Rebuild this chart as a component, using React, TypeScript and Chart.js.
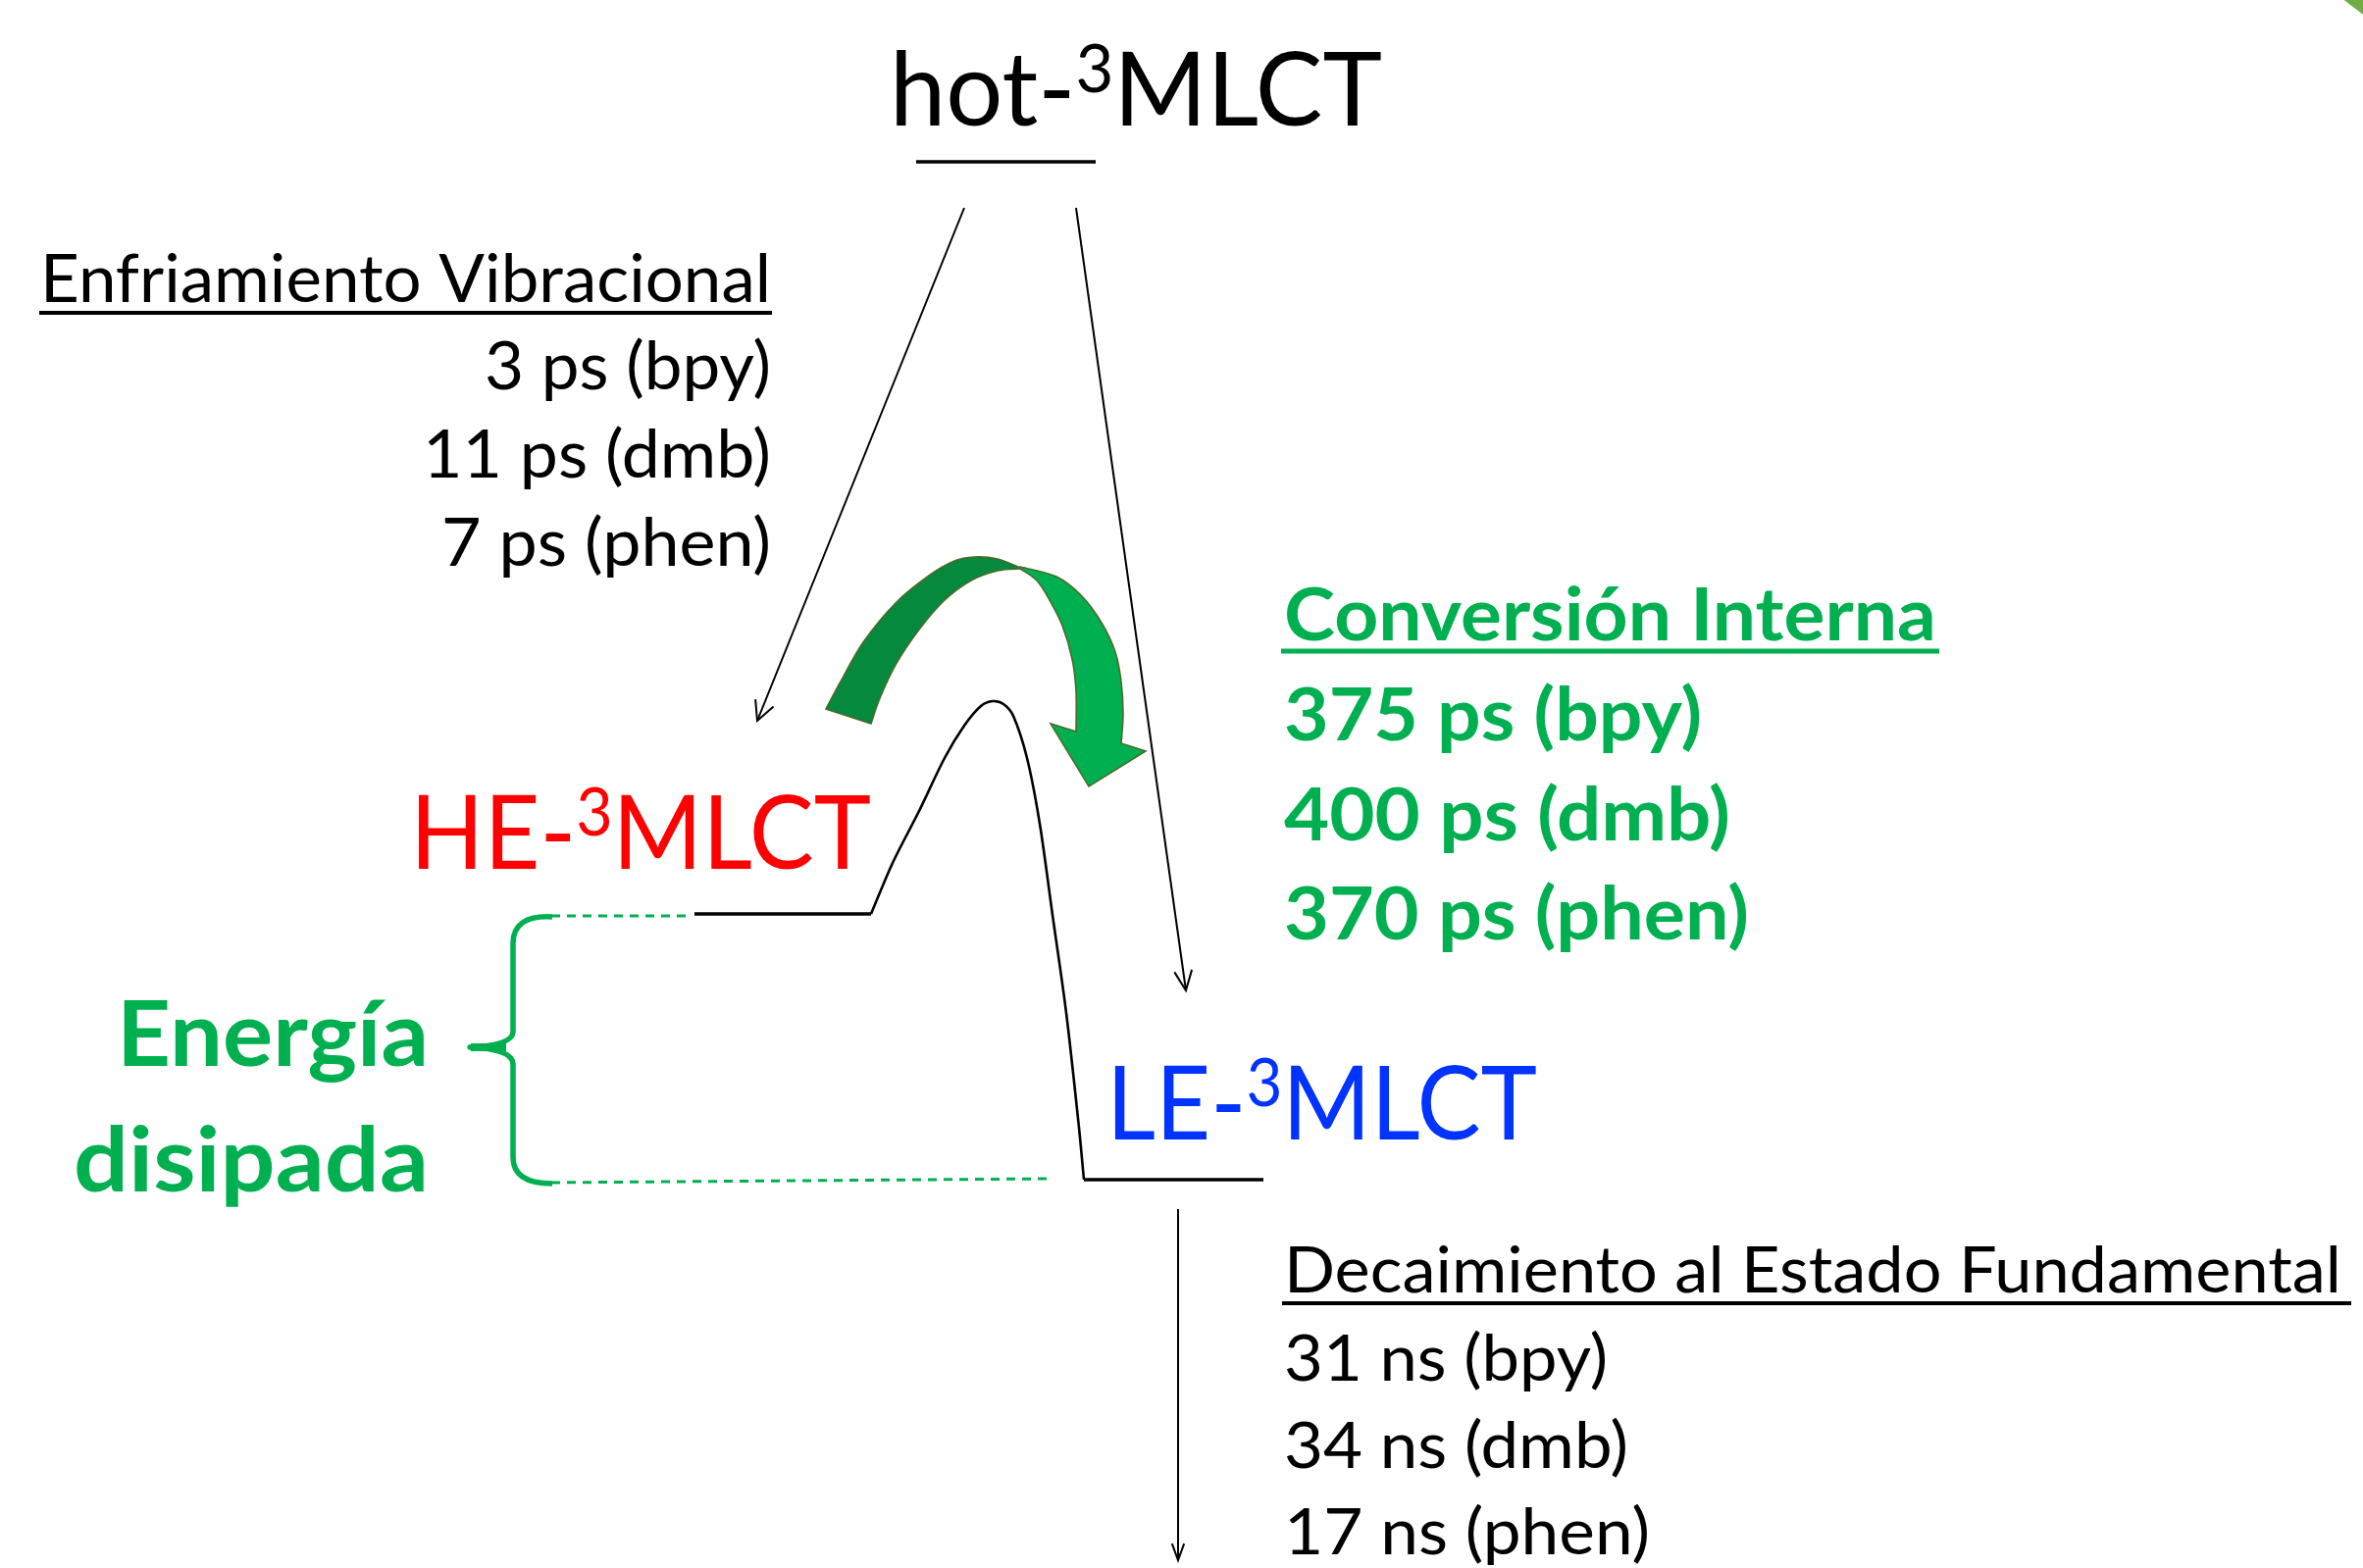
import React, { useEffect, useRef } from 'react';
import { Chart, registerables } from 'chart.js';

Chart.register(...registerables);

const W = 2409;
const H = 1599;

// ---- diagram data (x in diagram units, y = energy axis, drawn top-down) ----
const levelNames = ['hot-3MLCT', 'HE-3MLCT', 'LE-3MLCT'];
const levelX0 = [934, 708, 1105];
const levelX1 = [1117, 888, 1288];
const levelY = [165, 932, 1203];

const vibArrowX = [983, 772];
const vibArrowY = [212, 735];
const icArrowX = [1097, 1209];
const icArrowY = [212, 1010];
const decayArrowX = [1201, 1201];
const decayArrowY = [1233, 1591];

const barrierX = [888, 910, 937, 963, 983, 1000, 1012, 1023, 1033, 1047, 1060, 1073, 1087, 1100, 1105];
const barrierY = [932, 880, 827, 773, 740, 720, 715, 718, 730, 773, 840, 933, 1033, 1150, 1203];

const dashUpperX = [562, 706];
const dashUpperY = [934, 934];
const dashLowerX = [562, 1068];
const dashLowerY = [1206, 1202];

// curved green arrow (internal conversion), two ribbon halves
const darkOuterX = [842, 857, 880, 913, 947, 973, 993, 1017, 1040];
const darkOuterY = [723, 695, 655, 615, 587, 572, 568, 570, 579];
const darkInnerX = [1040, 1017, 990, 963, 937, 913, 897, 888];
const darkInnerY = [580, 582, 592, 612, 642, 678, 712, 738];
const lightOuterX = [1040, 1077, 1103, 1123, 1137, 1143, 1145, 1143];
const lightOuterY = [578, 588, 608, 635, 665, 695, 728, 758];
const lightHeadX = [1168, 1110, 1071, 1097];
const lightHeadY = [766, 802, 738, 746];
const lightInnerX = [1097, 1097, 1093, 1083, 1070, 1057, 1040];
const lightInnerY = [746, 705, 672, 638, 612, 592, 580];

// texts
const vibTitle = 'Enfriamiento Vibracional';
const vibLabels = ['3 ps (bpy)', '11 ps (dmb)', '7 ps (phen)'];
const icTitle = 'Conversión Interna';
const icLabels = ['375 ps (bpy)', '400 ps (dmb)', '370 ps (phen)'];
const decayTitle = 'Decaimiento al Estado Fundamental';
const decayLabels = ['31 ns (bpy)', '34 ns (dmb)', '17 ns (phen)'];
const energyLabels = ['Energía', 'disipada'];

const BLACK = '#000000';
const GREEN = '#00B050';
const DARK_GREEN = '#058A3D';
const OUTLINE = '#4A6A2A';
const RED = '#FF0000';
const BLUE = '#0033FF';
const FONT = 'Lato, "Open Sans", sans-serif';

const pts = (xs: number[], ys: number[]) => xs.map((x, i) => ({ x, y: ys[i] }));

type Run = { t: string; size: number; dy?: number; bold?: boolean; color?: string };

export default function App() {
  const ref = useRef<HTMLCanvasElement | null>(null);

  useEffect(() => {
    const canvas = ref.current;
    if (!canvas) return;

    const diagramPlugin = {
      id: 'diagram',
      afterDatasetsDraw(chart: any) {
        const ctx: CanvasRenderingContext2D = chart.ctx;
        const xs = chart.scales.x;
        const ys = chart.scales.y;
        const px = (v: number) => xs.getPixelForValue(v);
        const py = (v: number) => ys.getPixelForValue(v);

        // smooth curve through points (Catmull-Rom), assumes current point is at first point
        const smoothTo = (X: number[], Y: number[]) => {
          const P = X.map((x, i) => [px(x), py(Y[i])]);
          for (let i = 0; i < P.length - 1; i++) {
            const p0 = P[Math.max(0, i - 1)], p1 = P[i], p2 = P[i + 1], p3 = P[Math.min(P.length - 1, i + 2)];
            ctx.bezierCurveTo(
              p1[0] + (p2[0] - p0[0]) / 6, p1[1] + (p2[1] - p0[1]) / 6,
              p2[0] - (p3[0] - p1[0]) / 6, p2[1] - (p3[1] - p1[1]) / 6,
              p2[0], p2[1]
            );
          }
        };
        const linesTo = (X: number[], Y: number[]) => X.forEach((x, i) => ctx.lineTo(px(x), py(Y[i])));

        const arrowHead = (X: number[], Y: number[], len: number, ang: number, lw: number) => {
          const n = X.length;
          const x1 = px(X[n - 1]), y1 = py(Y[n - 1]);
          const x0 = px(X[n - 2]), y0 = py(Y[n - 2]);
          const a = Math.atan2(y1 - y0, x1 - x0);
          ctx.beginPath();
          ctx.moveTo(x1 - len * Math.cos(a - ang), y1 - len * Math.sin(a - ang));
          ctx.lineTo(x1, y1);
          ctx.lineTo(x1 - len * Math.cos(a + ang), y1 - len * Math.sin(a + ang));
          ctx.strokeStyle = BLACK;
          ctx.lineWidth = lw;
          ctx.lineJoin = 'miter';
          ctx.stroke();
        };

        const fontOf = (r: Run) => `${r.bold ? 'bold ' : ''}${r.size}px ${FONT}`;
        const drawRuns = (runs: Run[], x0: number, x1: number, base: number, color: string) => {
          let natural = 0;
          const widths: number[] = [];
          runs.forEach((r) => {
            ctx.font = fontOf(r);
            const w = ctx.measureText(r.t).width;
            widths.push(w);
            natural += w;
          });
          const s = (px(x1) - px(x0)) / natural;
          ctx.save();
          ctx.translate(px(x0), py(base));
          ctx.scale(s, 1);
          ctx.textBaseline = 'alphabetic';
          ctx.textAlign = 'left';
          let cx = 0;
          runs.forEach((r, i) => {
            ctx.font = fontOf(r);
            ctx.fillStyle = r.color || color;
            ctx.fillText(r.t, cx, -(r.dy || 0));
            cx += widths[i];
          });
          ctx.restore();
        };
        const underline = (x0: number, x1: number, y: number, th: number, color: string) => {
          ctx.fillStyle = color;
          ctx.fillRect(px(x0), py(y) - th / 2, px(x1) - px(x0), th);
        };

        ctx.save();

        // green curved arrow: dark left half
        ctx.beginPath();
        ctx.moveTo(px(darkOuterX[0]), py(darkOuterY[0]));
        smoothTo(darkOuterX, darkOuterY);
        ctx.lineTo(px(darkInnerX[0]), py(darkInnerY[0]));
        smoothTo(darkInnerX, darkInnerY);
        ctx.closePath();
        ctx.fillStyle = DARK_GREEN;
        ctx.fill();
        ctx.strokeStyle = OUTLINE;
        ctx.lineWidth = 1.6;
        ctx.lineJoin = 'miter';
        ctx.stroke();

        // light right half with head
        ctx.beginPath();
        ctx.moveTo(px(lightOuterX[0]), py(lightOuterY[0]));
        smoothTo(lightOuterX, lightOuterY);
        linesTo(lightHeadX, lightHeadY);
        smoothTo(lightInnerX, lightInnerY);
        ctx.closePath();
        ctx.fillStyle = GREEN;
        ctx.fill();
        ctx.strokeStyle = OUTLINE;
        ctx.lineWidth = 1.6;
        ctx.stroke();

        // arrow heads
        arrowHead(vibArrowX, vibArrowY, 22, 0.47, 2);
        arrowHead(icArrowX, icArrowY, 22, 0.42, 2);
        arrowHead(decayArrowX, decayArrowY, 18, 0.35, 2);

        // bracket
        ctx.beginPath();
        ctx.moveTo(px(563), py(935));
        ctx.quadraticCurveTo(px(523), py(933), px(523), py(962));
        ctx.lineTo(px(523), py(1052));
        ctx.quadraticCurveTo(px(523), py(1066), px(479), py(1068));
        ctx.quadraticCurveTo(px(523), py(1070), px(523), py(1085));
        ctx.lineTo(px(523), py(1180));
        ctx.quadraticCurveTo(px(523), py(1207), px(563), py(1207));
        ctx.strokeStyle = GREEN;
        ctx.lineWidth = 5.5;
        ctx.lineJoin = 'round';
        ctx.stroke();
        ctx.beginPath();
        ctx.moveTo(px(480), py(1068));
        ctx.lineTo(px(516), py(1068));
        ctx.lineWidth = 8;
        ctx.stroke();

        // corner decoration
        ctx.beginPath();
        ctx.moveTo(px(2387), py(-2));
        ctx.lineTo(px(2412), py(-2));
        ctx.lineTo(px(2412), py(17));
        ctx.closePath();
        ctx.fillStyle = '#70AD47';
        ctx.fill();

        // state labels
        const big = 104, sup = 68, raise = 34;
        drawRuns([{ t: 'hot-', size: big }, { t: '3', size: sup, dy: raise }, { t: 'MLCT', size: big }], 907, 1409, 128, BLACK);
        drawRuns([{ t: 'HE-', size: big }, { t: '3', size: sup, dy: raise }, { t: 'MLCT', size: big }], 418, 888, 886, RED);
        drawRuns([{ t: 'LE-', size: big }, { t: '3', size: sup, dy: raise }, { t: 'MLCT', size: big }], 1128, 1567, 1162, BLUE);

        // vibrational cooling
        drawRuns([{ t: vibTitle, size: 67 }], 41, 786, 308, BLACK);
        underline(40, 787, 319, 4, BLACK);
        const vibLeft = [494, 431, 450];
        const vibBase = [397, 487, 577];
        vibLabels.forEach((t, i) => drawRuns([{ t, size: 67 }], vibLeft[i], 786, vibBase[i], BLACK));

        // internal conversion
        drawRuns([{ t: icTitle, size: 74, bold: true }], 1309, 1974, 653, GREEN);
        underline(1306, 1977, 664, 5, GREEN);
        const icRight = [1735, 1764, 1783];
        const icBase = [755, 857, 958];
        icLabels.forEach((t, i) => drawRuns([{ t, size: 74, bold: true }], 1309, icRight[i], icBase[i], GREEN));

        // decay
        drawRuns([{ t: decayTitle, size: 65 }], 1309, 2387, 1318, BLACK);
        underline(1307, 2397, 1329, 4, BLACK);
        const dcRight = [1639, 1660, 1682];
        const dcBase = [1408, 1497, 1585];
        decayLabels.forEach((t, i) => drawRuns([{ t, size: 65 }], 1309, dcRight[i], dcBase[i], BLACK));

        // dissipated energy
        drawRuns([{ t: energyLabels[0], size: 91, bold: true }], 119, 437, 1087, GREEN);
        drawRuns([{ t: energyLabels[1], size: 91, bold: true }], 75, 437, 1215, GREEN);

        ctx.restore();
      },
    };

    const lineDs = (label: string, xs: number[], ys: number[], color: string, width: number, extra: any = {}) => ({
      label,
      data: pts(xs, ys),
      showLine: true,
      borderColor: color,
      backgroundColor: color,
      borderWidth: width,
      pointRadius: 0,
      fill: false,
      tension: 0,
      ...extra,
    });

    const datasets: any[] = [
      ...levelNames.map((n, i) => lineDs(n, [levelX0[i], levelX1[i]], [levelY[i], levelY[i]], BLACK, 3.5, { borderCapStyle: 'butt' })),
      lineDs('vib', vibArrowX, vibArrowY, BLACK, 2),
      lineDs('ic', icArrowX, icArrowY, BLACK, 2),
      lineDs('decay', decayArrowX, decayArrowY, BLACK, 2),
      lineDs('barrier', barrierX, barrierY, BLACK, 2.6, { tension: 0.3 }),
      lineDs('dashUpper', dashUpperX, dashUpperY, GREEN, 3, { borderDash: [9, 7] }),
      lineDs('dashLower', dashLowerX, dashLowerY, GREEN, 3, { borderDash: [9, 7] }),
    ];

    const chart = new Chart(canvas, {
      type: 'scatter',
      data: { datasets },
      options: {
        responsive: false,
        animation: false,
        devicePixelRatio: 1,
        events: [],
        layout: { padding: 0 },
        plugins: { legend: { display: false }, tooltip: { enabled: false } },
        scales: {
          x: { type: 'linear', display: false, min: 0, max: W },
          y: { type: 'linear', display: false, min: 0, max: H, reverse: true },
        },
      } as any,
      plugins: [diagramPlugin],
    });

    return () => chart.destroy();
  }, []);

  return (
    <div style={{ position: 'fixed', left: 0, top: 0, width: W, height: H, background: '#fff' }}>
      <canvas ref={ref} width={W} height={H} style={{ display: 'block', width: W, height: H }} />
    </div>
  );
}
